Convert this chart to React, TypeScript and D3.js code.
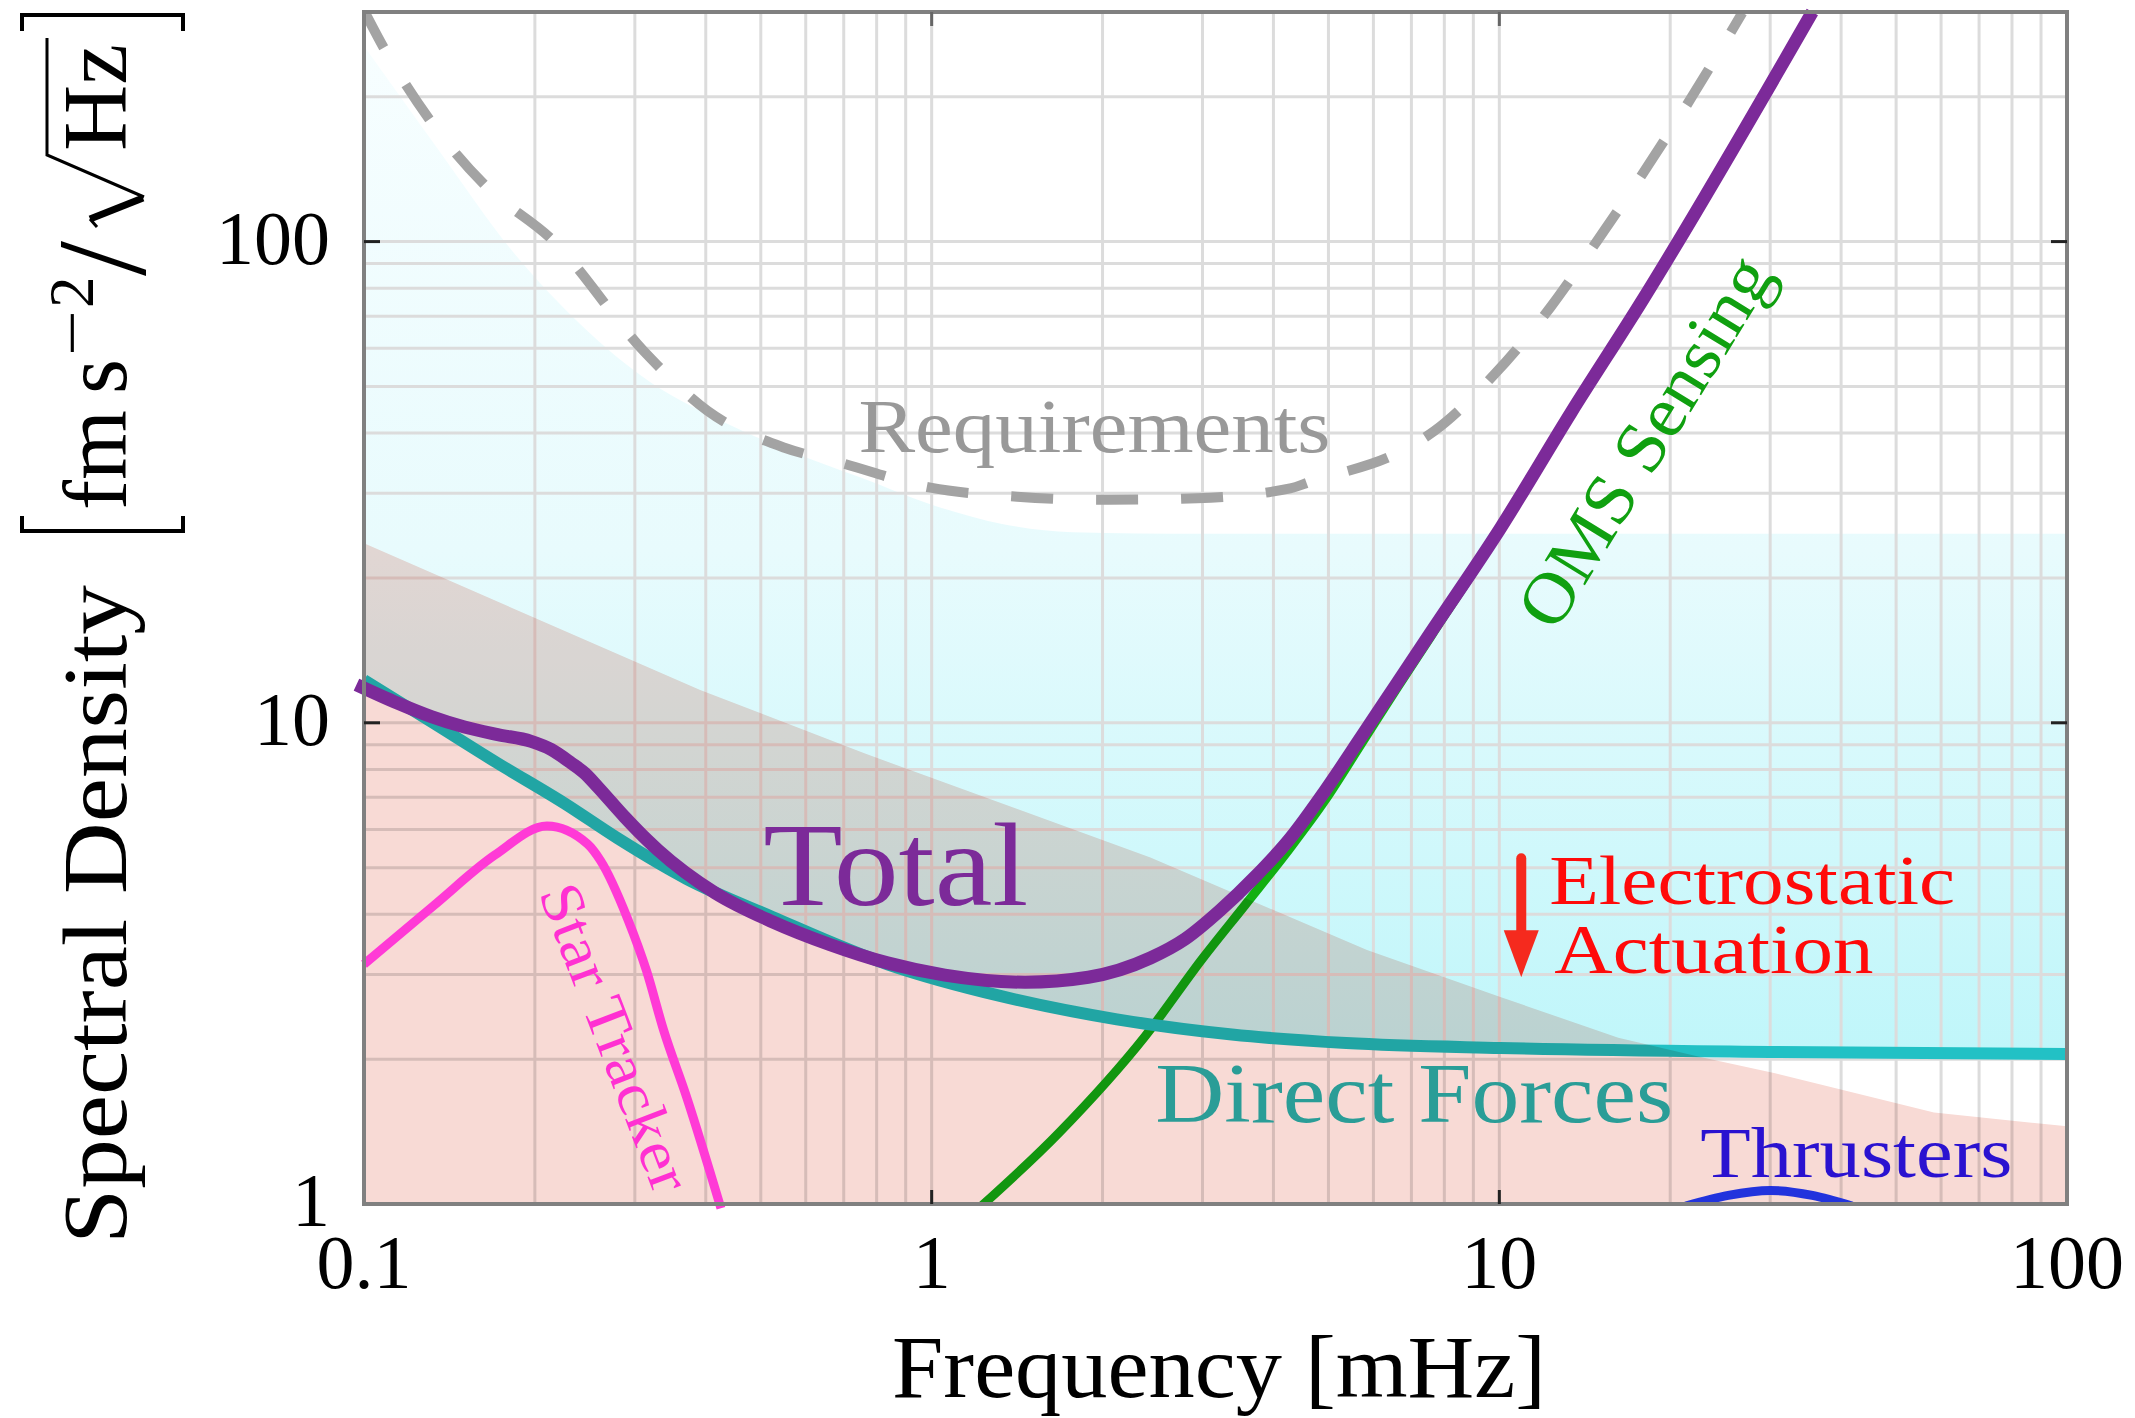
import React from 'react';
import * as d3 from 'd3';

const WIDTH = 2135;
const HEIGHT = 1418;
const PLOT = { left: 364, right: 2067, top: 12, bottom: 1204 };
const SERIF = "'Liberation Serif', 'Times New Roman', Times, serif";

type Pt = [number, number];

// Acceleration noise amplitude spectral densities: [frequency (mHz), ASD (fm s^-2 / sqrt(Hz))]
const totalNoise: Pt[] = [
  [0.097, 12.0], [0.1147, 10.98], [0.1314, 10.3], [0.1503, 9.8], [0.172, 9.45],
  [0.197, 9.15], [0.2137, 8.8], [0.2317, 8.25], [0.245, 7.85], [0.258, 7.36],
  [0.2876, 6.38], [0.3157, 5.7], [0.3294, 5.44], [0.4156, 4.43], [0.524, 3.86],
  [0.662, 3.46], [0.8356, 3.17], [1.055, 2.99], [1.461, 2.89], [1.888, 2.96],
  [2.428, 3.245], [2.798, 3.556], [3.225, 4.08], [3.716, 4.79], [4.284, 5.76],
  [4.936, 7.235], [5.7, 9.31], [6.57, 11.98], [7.57, 15.4], [10.07, 25.5],
  [13.39, 44.2], [17.78, 74.8], [35.6, 300],
];

const directForces: Pt[] = [
  [0.1, 12.27], [0.1314, 10.05], [0.172, 8.24], [0.2255, 6.8], [0.28, 5.75],
  [0.37, 4.74], [0.524, 3.95], [0.8356, 3.15], [1.331, 2.7], [2.12, 2.42],
  [3.38, 2.25], [5.375, 2.16], [10.04, 2.11], [30, 2.07], [100, 2.05],
];

const omsSensing: Pt[] = [
  [1.2, 0.97], [1.679, 1.409], [2.379, 2.235], [3.005, 3.245], [3.565, 4.18],
  [4.284, 5.5], [4.936, 6.91], [5.7, 9.0], [6.57, 11.7], [7.57, 15.1],
  [10.07, 25.3], [13.39, 44.0], [17.78, 74.5], [35.6, 300],
];

const starTracker: Pt[] = [
  [0.1, 3.15], [0.133, 4.18], [0.17, 5.31], [0.21, 6.1], [0.2475, 5.6],
  [0.261, 5.17], [0.2917, 3.9], [0.3146, 3.05], [0.337, 2.3], [0.37, 1.67],
  [0.4254, 0.98],
];

const thrusters: Pt[] = [
  [21.3, 0.99], [25.3, 1.042], [30, 1.067], [35.6, 1.042], [41.8, 0.99],
];

const requirements: Pt[] = [
  [0.1, 302], [0.1087, 251], [0.131, 178], [0.1643, 130], [0.2152, 100.5],
  [0.312, 59], [0.4027, 44.5], [0.5505, 37.3], [0.6906, 34.7], [0.995, 30.8],
  [1.414, 29.5], [2.0, 29.06], [2.935, 29.3], [4.28, 30.7], [4.645, 31.7],
  [6.69, 36.6], [7.68, 40.4], [9.79, 52.9], [12.29, 72.9], [14.88, 100.5],
  [17.99, 139.8], [21.8, 199.3], [26.8, 299],
];

// Upper edge of the actuation noise band before the electrostatic improvement
const actuationBefore: Pt[] = [
  [0.1, 255], [0.1364, 153], [0.181, 96.7], [0.241, 67.2], [0.3205, 50.9],
  [0.4263, 42.4], [0.566, 36.6], [0.752, 32.3], [1.0, 28.4], [1.33, 25.9],
  [1.77, 24.9], [3.0, 24.7], [100, 24.7],
];

// Upper edge of the actuation noise band after the electrostatic improvement
const actuationAfter: Pt[] = [
  [0.1, 23.6], [0.391, 11.7], [0.761, 8.64], [2.428, 5.25], [5.846, 3.37],
  [10.04, 2.693], [16.2, 2.215], [22.6, 2.02], [30.6, 1.87], [58.3, 1.55],
  [100, 1.45],
];

const xTicks = [0.1, 1, 10, 100];
const xTickLabels = ['0.1', '1', '10', '100'];
const yTicks = [1, 10, 100];
const yTickLabels = ['1', '10', '100'];

const x = d3.scaleLog().domain([0.1, 100]).range([PLOT.left, PLOT.right]);
const y = d3.scaleLog().domain([1, 300]).range([PLOT.bottom, PLOT.top]);

const line = d3
  .line<Pt>()
  .x((d) => x(d[0]))
  .y((d) => y(d[1]))
  .curve(d3.curveMonotoneX);

const gridX: number[] = [];
for (let e = -1; e < 2; e++) for (let k = 1; k < 10; k++) gridX.push(k * Math.pow(10, e));
gridX.push(100);
const gridY: number[] = [];
for (let e = 0; e < 3; e++)
  for (let k = 1; k < 10; k++) {
    const v = k * Math.pow(10, e);
    if (v <= 300) gridY.push(v);
  }

export default function App() {
  const bandAbove = d3
    .area<Pt>()
    .x((d) => x(d[0]))
    .y0(PLOT.bottom + 60)
    .y1((d) => y(d[1]))
    .curve(d3.curveMonotoneX)(actuationBefore) as string;

  const aboveDirect = d3
    .area<Pt>()
    .x((d) => x(d[0]))
    .y0(PLOT.top - 60)
    .y1((d) => y(d[1]))
    .curve(d3.curveMonotoneX)(directForces) as string;

  const bandBelow = d3
    .area<Pt>()
    .x((d) => x(d[0]))
    .y0(PLOT.bottom)
    .y1((d) => y(d[1]))
    .curve(d3.curveLinear)(actuationAfter) as string;

  const arrowX = x(10.93);
  const arrowTop = y(5.23);
  const arrowTip = y(2.96);

  return (
    <svg
      width={WIDTH}
      height={HEIGHT}
      viewBox={`0 0 ${WIDTH} ${HEIGHT}`}
      style={{ position: 'absolute', left: 0, top: 0, display: 'block' }}
      fontFamily={SERIF}
    >
      <defs>
        <clipPath id="plot-area">
          <rect x={PLOT.left} y={PLOT.top} width={PLOT.right - PLOT.left} height={PLOT.bottom - PLOT.top} />
        </clipPath>
        <clipPath id="above-direct">
          <path d={aboveDirect} />
        </clipPath>
        <linearGradient id="band-grad" gradientUnits="userSpaceOnUse" x1={0} y1={40} x2={0} y2={1060}>
          <stop offset="0" stopColor="#f7feff" />
          <stop offset="0.5" stopColor="#e8fbfd" />
          <stop offset="1" stopColor="#bff6fa" />
        </linearGradient>
      </defs>

      <rect x={0} y={0} width={WIDTH} height={HEIGHT} fill="#ffffff" />

      <g clipPath="url(#plot-area)">
        <path d={bandAbove} fill="url(#band-grad)" clipPath="url(#above-direct)" />
      </g>

      {/* log grid */}
      <g stroke="#dcdcdc" strokeWidth={3}>
        {gridX.map((v, i) => (
          <line key={`gx${i}`} x1={x(v)} x2={x(v)} y1={PLOT.top} y2={PLOT.bottom} />
        ))}
        {gridY.map((v, i) => (
          <line key={`gy${i}`} x1={PLOT.left} x2={PLOT.right} y1={y(v)} y2={y(v)} />
        ))}
      </g>

      <path d={line(omsSensing) as string} fill="none" stroke="#12b012" strokeWidth={9} clipPath="url(#plot-area)" />
      <path d={line(directForces) as string} fill="none" stroke="#22c1c5" strokeWidth={12} clipPath="url(#plot-area)" />
      <path d={bandBelow} fill="#f8dad5" stroke="none" style={{ mixBlendMode: 'multiply' }} />
      <path
        d={line(requirements) as string}
        fill="none"
        stroke="#a3a3a3"
        strokeWidth={10}
        strokeDasharray="42 43"
        clipPath="url(#plot-area)"
      />
      <path d={line(thrusters) as string} fill="none" stroke="#2233dd" strokeWidth={9} clipPath="url(#plot-area)" />
      <path d={line(starTracker) as string} fill="none" stroke="#ff3ad6" strokeWidth={9} />
      <path d={line(totalNoise) as string} fill="none" stroke="#7c2a99" strokeWidth={13} />

      {/* frame and major ticks */}
      <rect
        x={PLOT.left}
        y={PLOT.top}
        width={PLOT.right - PLOT.left}
        height={PLOT.bottom - PLOT.top}
        fill="none"
        stroke="#808080"
        strokeWidth={4}
      />
      <g stroke="#222" strokeWidth={3}>
        {[1, 10].map((t) => (
          <g key={`tx${t}`}>
            <line x1={x(t)} x2={x(t)} y1={PLOT.bottom} y2={PLOT.bottom - 14} />
            <line x1={x(t)} x2={x(t)} y1={PLOT.top} y2={PLOT.top + 14} stroke="#666" />
          </g>
        ))}
        {[10, 100].map((t) => (
          <g key={`ty${t}`}>
            <line x1={PLOT.left} x2={PLOT.left + 16} y1={y(t)} y2={y(t)} />
            <line x1={PLOT.right} x2={PLOT.right - 16} y1={y(t)} y2={y(t)} />
          </g>
        ))}
      </g>

      {/* tick labels */}
      <g fontSize={76} fill="#000">
        {xTicks.map((t, i) => (
          <text key={`xl${i}`} x={x(t)} y={1288} textAnchor="middle">
            {xTickLabels[i]}
          </text>
        ))}
        {yTicks.map((t, i) => (
          <text key={`yl${i}`} x={330} y={y(t) + 22} textAnchor="end">
            {yTickLabels[i]}
          </text>
        ))}
      </g>

      {/* axis titles */}
      <text x={892} y={1397} fontSize={88} fill="#000" textLength={654} lengthAdjust="spacingAndGlyphs">
        Frequency [mHz]
      </text>

      <g fill="#000">
        <g transform="translate(126,0) rotate(-90)">
          <text x={-1244} y={0} fontSize={90} textLength={659} lengthAdjust="spacingAndGlyphs">
            Spectral Density
          </text>
          <text x={-510} y={0} fontSize={90} textLength={100} lengthAdjust="spacingAndGlyphs">
            fm
          </text>
          <text x={-394} y={0} fontSize={90}>
            s
          </text>
          <text x={-356} y={-33} fontSize={63} textLength={46} lengthAdjust="spacingAndGlyphs">
            −
          </text>
          <text x={-308} y={-33} fontSize={63}>
            2
          </text>
          <text x={-276} y={19} fontSize={126}>
            /
          </text>
          <text x={-151} y={0} fontSize={90} textLength={107} lengthAdjust="spacingAndGlyphs">
            Hz
          </text>
        </g>
        <g fill="none" stroke="#000" strokeLinejoin="miter">
          <path d="M22,516 L22,531 L183,531 L183,516" strokeWidth={4} />
          <path d="M22,31 L22,15 L183,15 L183,31" strokeWidth={4} />
          <path d="M97,227 L90,219" strokeWidth={3} />
          <path d="M90,219 L143,198" strokeWidth={7} />
          <path d="M144,197 L47,155 L47,38" strokeWidth={3} />
        </g>
      </g>

      {/* curve annotations */}
      <text x={x(0.743)} y={y(36.5)} fontSize={76} fill="#999999" textLength={472} lengthAdjust="spacingAndGlyphs">
        Requirements
      </text>
      <text x={x(0.5053)} y={y(4.18)} fontSize={118} fill="#7c2a99" textLength={265} lengthAdjust="spacingAndGlyphs">
        Total
      </text>
      <text x={x(2.477)} y={y(1.478)} fontSize={85} fill="#2a9d97" textLength={518} lengthAdjust="spacingAndGlyphs">
        Direct Forces
      </text>
      <text x={x(22.6)} y={y(1.139)} fontSize={72} fill="#2a12d0" textLength={312} lengthAdjust="spacingAndGlyphs">
        Thrusters
      </text>
      <text x={x(12.24)} y={y(4.21)} fontSize={70} fill="#ff0a0a" textLength={406} lengthAdjust="spacingAndGlyphs">
        Electrostatic
      </text>
      <text x={x(12.5)} y={y(3.018)} fontSize={70} fill="#ff0a0a" textLength={319} lengthAdjust="spacingAndGlyphs">
        Actuation
      </text>
      <text
        transform={`translate(${x(19.6)},${y(36.2)}) rotate(-58.5)`}
        textAnchor="middle"
        fontSize={72}
        fill="#10a010"
        textLength={421}
        lengthAdjust="spacingAndGlyphs"
      >
        OMS Sensing
      </text>
      <text
        transform={`translate(${x(0.275)},${y(2.21)}) rotate(69)`}
        textAnchor="middle"
        dy="0.3em"
        fontSize={60}
        fill="#ff30d2"
        textLength={325}
        lengthAdjust="spacingAndGlyphs"
      >
        Star Tracker
      </text>

      {/* improvement arrow */}
      <line
        x1={arrowX}
        x2={arrowX}
        y1={arrowTop}
        y2={arrowTip - 40}
        stroke="#f52a1e"
        strokeWidth={10}
        strokeLinecap="round"
      />
      <path
        d={`M${arrowX - 17.5},${arrowTip - 47} L${arrowX + 17.5},${arrowTip - 47} L${arrowX},${arrowTip} Z`}
        fill="#f52a1e"
      />
    </svg>
  );
}
